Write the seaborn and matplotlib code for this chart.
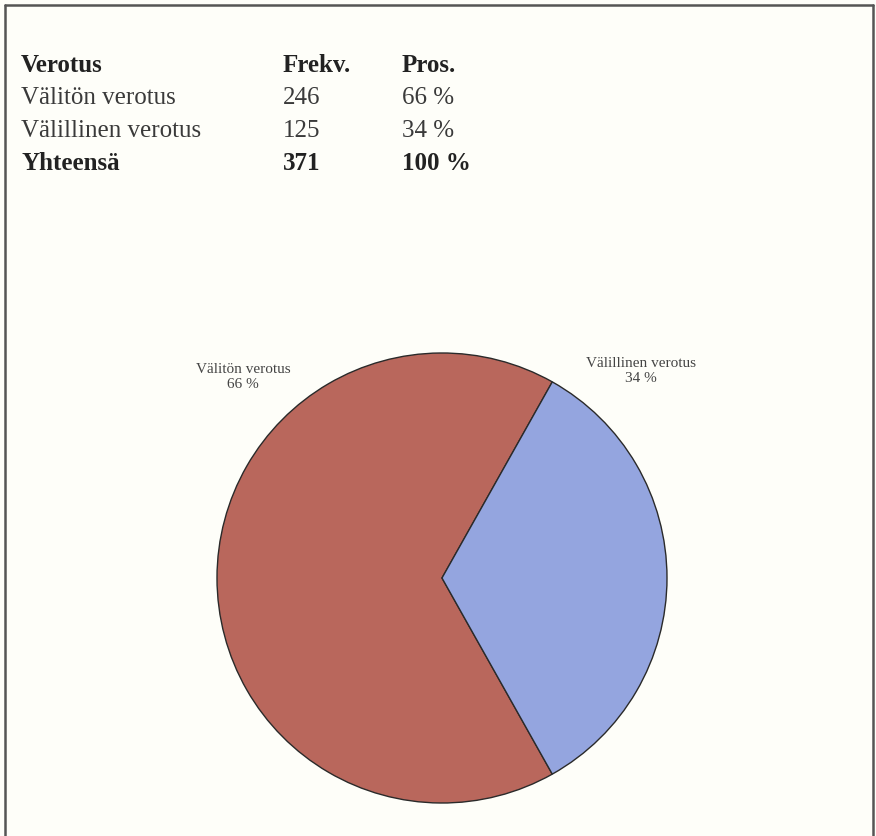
import matplotlib
matplotlib.use("Agg")
import matplotlib.pyplot as plt
import seaborn as sns
import pandas as pd
from matplotlib.lines import Line2D

# Tax type distribution
categories = ["Välitön verotus", "Välillinen verotus"]
frequencies = [246, 125]
percent_labels = ["66 %", "34 %"]
total_label = "Yhteensä"
total_freq = "371"
total_pct = "100 %"
headers = ["Verotus", "Frekv.", "Pros."]

df = pd.DataFrame({"Verotus": categories, "Frekv.": frequencies, "Pros.": percent_labels})

sns.set_theme(style="white")
plt.rcParams["font.family"] = ["Liberation Serif", "DejaVu Serif"]

colors = ["#b9675c", "#94a5df"]
bg = "#fefef9"
W, H = 876, 836

fig = plt.figure(figsize=(W / 100, H / 100), dpi=100, facecolor=bg)

# Frame around the page
frame_kw = dict(color="#555555", lw=1.8, transform=fig.transFigure)
fig.add_artist(Line2D([5 / W, 5 / W], [0, 1 - 5 / H], **frame_kw))
fig.add_artist(Line2D([5 / W, 873 / W], [1 - 5 / H, 1 - 5 / H], **frame_kw))
fig.add_artist(Line2D([873 / W, 873 / W], [0, 1 - 5 / H], **frame_kw))

# Table above the chart
col_x = [21 / W, 283 / W, 402 / W]
row_y = [65, 98, 131, 164]
fs = 18
for x, h in zip(col_x, headers):
    fig.text(x, 1 - row_y[0] / H, h, fontweight="bold", fontsize=fs,
             color="#222222", va="center", ha="left")
for i, row in df.iterrows():
    y = 1 - row_y[i + 1] / H
    for x, val in zip(col_x, [row["Verotus"], str(row["Frekv."]), row["Pros."]]):
        fig.text(x, y, val, color="#3a3a3a", fontsize=fs, va="center", ha="left")
for x, t in zip(col_x, [total_label, total_freq, total_pct]):
    fig.text(x, 1 - row_y[3] / H, t, fontweight="bold", fontsize=fs,
             color="#222222", va="center", ha="left")

# Pie chart
R = 225
cx, cy = 442, 578
ax = fig.add_axes([(cx - R) / W, (H - cy - R) / H, 2 * R / W, 2 * R / H])
ax.set_facecolor(bg)
share = df["Frekv."] / df["Frekv."].sum()
start = 180 * share.iloc[1]
wedges, _ = ax.pie(df["Frekv."], colors=colors, startangle=start, counterclock=True,
                   wedgeprops=dict(edgecolor="#2a2a2a", linewidth=1.0))
ax.set_xlim(-1.0, 1.0)
ax.set_ylim(-1.0, 1.0)
ax.set_aspect("equal")
ax.axis("off")

# Slice labels outside the pie
label_pos = [((243 - cx) / R, (cy - 377) / R), ((641 - cx) / R, (cy - 371) / R)]
for (x, y), cat, pct in zip(label_pos, df["Verotus"], df["Pros."]):
    ax.text(x, y, f"{cat}\n{pct}", ha="center", va="center", fontsize=11,
            color="#444444", linespacing=1.25, clip_on=False)

fig.savefig("out.png", dpi=100, facecolor=bg)
